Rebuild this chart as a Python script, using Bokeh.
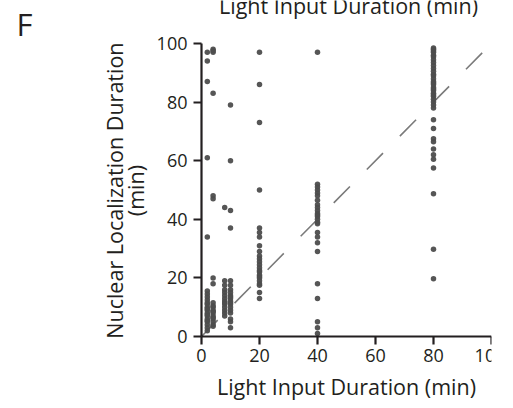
from bokeh.plotting import figure
from bokeh.models import ColumnDataSource, Range1d, FixedTicker, Label
from bokeh.embed import file_html
from bokeh.resources import INLINE
import math

# Light input durations (min) and measured nuclear localization durations (min)
durations = [2, 4, 8, 10, 20, 40, 80]
loc_2 = [97, 94, 87, 61, 34, 15.5, 14.5, 13.5, 12.5, 11.5, 11, 10, 9.5, 9, 8, 7.5, 7, 6, 5.5, 5, 4, 3, 2]
loc_4 = [98, 97.5, 97, 83, 48, 47, 20, 18, 11.5, 10.5, 10, 9, 8.5, 8, 7, 6.5, 6, 5, 4, 3.5]
loc_8 = [44, 19, 17.5, 16, 15, 14, 13, 12, 11.5, 11, 10, 9, 8, 7]
loc_10 = [79, 60, 43, 37, 19, 17.5, 16, 15, 14, 13.5, 13, 12, 11.5, 11, 10, 9, 8, 6, 5, 3]
loc_20 = [97, 86, 73, 50, 37, 35.5, 34, 31, 29, 27.5, 26.5, 25.5, 24.5, 23.5, 22.5, 22, 21, 20.5, 20, 19, 18, 17.5, 15, 13]
loc_40 = [97, 52, 51, 50, 49, 48, 46.5, 45, 44, 43, 42, 41.5, 41, 40, 39, 38.5, 35.5, 34, 32, 29, 18, 13, 5, 3, 1]
loc_80 = [98.5, 98, 97.5, 97, 96, 95.5, 94.5, 93.5, 92.5, 91.5, 90.5, 89.5, 89, 88, 87, 86.5, 86, 85,
          84.5, 84, 83, 82.5, 82, 81, 80, 79, 78, 74, 71, 67.5, 66.5, 64, 62, 60.5, 57.5, 48.7, 29.8, 19.7]
ticks = [0, 20, 40, 60, 80, 100]

groups = [loc_2, loc_4, loc_8, loc_10, loc_20, loc_40, loc_80]
xs, ys = [], []
for d, vals in zip(durations, groups):
    xs += [d] * len(vals)
    ys += vals
src = ColumnDataSource(data=dict(x=xs, y=ys))

FONT = "Open Sans"
INK = "#231f20"

# The frame spans the whole canvas, so that the titles, the panel letter and the cropped
# header are all drawn inside it; both axes are pinned at 0 and bounded to 0..100.
p = figure(width=505, height=406, output_backend="svg", toolbar_location=None,
           x_range=Range1d(-69.31, 100), y_range=Range1d(-23.89, 114.68),
           min_border_left=0, min_border_right=14, min_border_top=0, min_border_bottom=0)
p.outline_line_color = None
p.xgrid.visible = False
p.ygrid.visible = False
p.background_fill_color = None

# identity dashed line
p.line([0, 100], [0, 100], line_color="#7a7a7a", line_width=1.6, line_dash="23 24")
p.scatter("x", "y", source=src, size=5.5, fill_color="#4d4d4d", line_color=None, fill_alpha=0.95)

for ax in (p.xaxis[0], p.yaxis[0]):
    ax.ticker = FixedTicker(ticks=ticks)
    ax.bounds = (0, 100)
    ax.fixed_location = 0
    ax.axis_line_width = 2.2
    ax.axis_line_color = INK
    ax.major_tick_line_width = 2.2
    ax.major_tick_line_color = INK
    ax.major_tick_out = 8
    ax.major_tick_in = 0
    ax.minor_tick_line_color = None
    ax.major_label_text_font = FONT
    ax.major_label_text_font_size = "18px"
    ax.major_label_text_color = INK

p.xaxis.major_label_standoff = 4
p.yaxis.major_label_standoff = 6

# x title
p.add_layout(Label(x=50.0, y=-17.1, text="Light Input Duration (min)",
                   text_align="center", text_baseline="middle", text_font=FONT,
                   text_font_size="21.5px", text_color=INK))

# two-line y title
p.add_layout(Label(x=-29.83, y=49.8, text="Nuclear Localization Duration", angle=math.pi / 2,
                   text_align="center", text_baseline="middle", text_font=FONT,
                   text_font_size="21.5px", text_color=INK))
p.add_layout(Label(x=-22.76, y=49.8, text="(min)", angle=math.pi / 2,
                   text_align="center", text_baseline="middle", text_font=FONT,
                   text_font_size="21.5px", text_color=INK))

# panel letter
p.add_layout(Label(x=-63.8, y=106.5, text="F", text_align="left", text_baseline="alphabetic",
                   text_font=FONT, text_font_size="31px", text_color=INK))

# cropped header at the very top
p.add_layout(Label(x=50.7, y=112.9, text="Light Input Duration (min)",
                   text_align="center", text_baseline="alphabetic", text_font=FONT,
                   text_font_size="21.5px", text_color=INK))

open("out.html", "w").write(file_html(p, INLINE))
